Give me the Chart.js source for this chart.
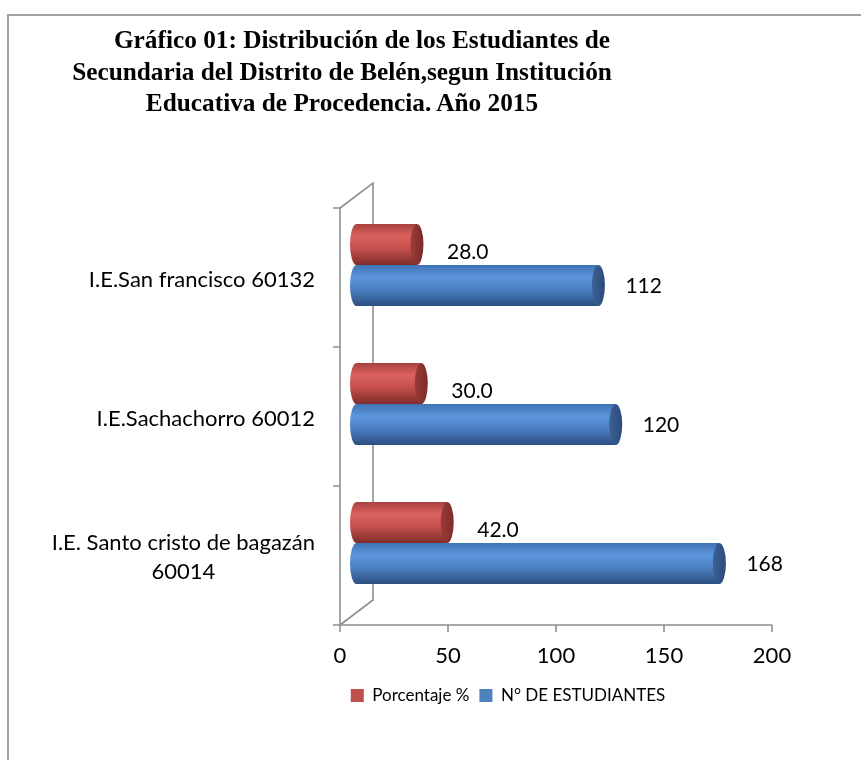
<!DOCTYPE html>
<html>
<head>
<meta charset="utf-8">
<script src="https://cdn.jsdelivr.net/npm/chart.js@4.4.0/dist/chart.umd.min.js"></script>
<style>
html, body { margin: 0; padding: 0; background: #fff; overflow: hidden; }
#marco { position: absolute; left: 7px; top: 14px; width: 1000px; height: 800px;
         border-top: 2px solid #a3a3a3; border-left: 2px solid #a3a3a3; }
#lienzo { position: absolute; left: 0; top: 0; width: 861px; height: 760px; }
#titulo { position: absolute; left: 0; top: 24px; width: 684px; text-align: center;
          font: bold 25.3px "Liberation Serif", serif; line-height: 31.5px; color: #000; }
#titulo .l1 { padding-left: 40px; }
</style>
</head>
<body>
<div id="marco"></div>
<div id="lienzo"><canvas id="grafico"></canvas></div>
<div id="titulo"><div class="l1">Gráfico 01: Distribución de los Estudiantes de</div><div>Secundaria del Distrito de Belén,segun Institución</div><div>Educativa de Procedencia. Año 2015</div></div>
<script>
// datos del gráfico
const instituciones = ['I.E.San francisco 60132', 'I.E.Sachachorro 60012', ['I.E. Santo cristo de bagazán', '60014']];
const porcentaje = [28.0, 30.0, 42.0];
const estudiantes = [112, 120, 168];
const ejeMin = 0, ejeMax = 200, ejePaso = 50;

// profundidad del efecto 3D
const PROF_X = 33, PROF_Y = -25;
const GRIS = '#8f8f8f';

// colores de cilindro: borde sup, brillo, medio, borde inf, tapa clara, tapa oscura
const colRojo = ['#a8423f', '#db625e', '#c54f4c', '#7e2d2b', '#9c3b38', '#7a2c2a'];
const colAzul = ['#4072b4', '#5c96dc', '#4b7fc2', '#2c4f80', '#3d6298', '#2b4b78'];

function cilindro(ctx, x0, x1, yc, h, col) {
    const ry = h / 2, rx = 6.5;
    const top = yc - ry, bot = yc + ry;
    const g = ctx.createLinearGradient(0, top, 0, bot);
    g.addColorStop(0, col[0]);
    g.addColorStop(0.3, col[1]);
    g.addColorStop(0.6, col[2]);
    g.addColorStop(1, col[3]);
    ctx.beginPath();
    ctx.moveTo(x1, top);
    ctx.lineTo(x0, top);
    ctx.ellipse(x0, yc, rx, ry, 0, -Math.PI / 2, Math.PI / 2, true);
    ctx.lineTo(x1, bot);
    ctx.closePath();
    ctx.fillStyle = g;
    ctx.fill();
    // tapa del extremo
    const gt = ctx.createLinearGradient(x1 - rx, 0, x1 + rx, 0);
    gt.addColorStop(0, col[4]);
    gt.addColorStop(1, col[5]);
    ctx.beginPath();
    ctx.ellipse(x1, yc, rx, ry, 0, 0, Math.PI * 2);
    ctx.fillStyle = gt;
    ctx.fill();
}

// paredes y ejes en perspectiva
const paredes = {
    id: 'paredes',
    beforeDatasetsDraw(chart) {
        const {ctx, chartArea: a, scales: {x}} = chart;
        const izq = a.left, inf = a.bottom, sup = a.top;
        ctx.save();
        ctx.strokeStyle = GRIS;
        ctx.lineWidth = 1.6;
        ctx.beginPath();
        // pared lateral
        ctx.moveTo(izq, sup); ctx.lineTo(izq, inf);
        ctx.moveTo(izq, sup); ctx.lineTo(izq + PROF_X, sup + PROF_Y);
        ctx.lineTo(izq + PROF_X, inf + PROF_Y); ctx.lineTo(izq, inf);
        // eje x
        ctx.moveTo(izq, inf); ctx.lineTo(x.getPixelForValue(ejeMax), inf);
        x.ticks.forEach(t => {
            const px = x.getPixelForValue(t.value);
            ctx.moveTo(px, inf); ctx.lineTo(px, inf + 7);
        });
        // marcas de categoría
        const banda = (a.bottom - a.top) / instituciones.length;
        for (let k = 0; k <= instituciones.length; k++) {
            const py = sup + k * banda;
            ctx.moveTo(izq - 7, py); ctx.lineTo(izq, py);
        }
        ctx.stroke();
        ctx.restore();
    }
};

// etiquetas de categoría: una línea a la derecha, varias centradas entre sí
const etiquetasY = {
    id: 'etiquetasY',
    afterDraw(chart) {
        const {ctx, chartArea: a, scales: {y}} = chart;
        ctx.save();
        ctx.font = '22px Lato';
        ctx.fillStyle = '#000';
        ctx.textAlign = 'center';
        ctx.textBaseline = 'middle';
        const der = a.left - 25, lh = 29;
        chart.data.labels.forEach((lab, i) => {
            const lineas = Array.isArray(lab) ? lab : [lab];
            const ancho = Math.max(...lineas.map(t => ctx.measureText(t).width));
            const cx = der - ancho / 2;
            const y0 = y.getPixelForTick(i) + 2 - (lineas.length - 1) * lh / 2;
            lineas.forEach((t, k) => ctx.fillText(t, cx, y0 + k * lh));
        });
        ctx.restore();
    }
};

// barras cilíndricas y etiquetas de valor
const cilindros = {
    id: 'cilindros',
    beforeDatasetDraw() { return false; },
    afterDatasetsDraw(chart) {
        const ctx = chart.ctx;
        ctx.save();
        ctx.translate(PROF_X / 2, PROF_Y / 2);
        const cols = [colRojo, colAzul];
        chart.data.datasets.forEach((ds, i) => {
            chart.getDatasetMeta(i).data.forEach(bar => {
                const {x, y, base, height} = bar.getProps(['x', 'y', 'base', 'height'], true);
                cilindro(ctx, base, x, y, height, cols[i]);
            });
        });
        ctx.font = '21px Lato';
        ctx.fillStyle = '#000';
        ctx.textAlign = 'left';
        ctx.textBaseline = 'middle';
        chart.data.datasets.forEach((ds, i) => {
            chart.getDatasetMeta(i).data.forEach((bar, j) => {
                const v = ds.data[j];
                if (i === 0) {
                    ctx.fillText(v.toFixed(1), bar.x + 30, bar.y + 8);
                } else {
                    ctx.fillText(String(v), bar.x + 27, bar.y + 1);
                }
            });
        });
        ctx.restore();
    }
};

// leyenda desplazada como en el original
const moverLeyenda = {
    id: 'moverLeyenda',
    afterLayout(chart) {
        const lg = chart.legend;
        const d = 508 - (lg.left + lg.right) / 2;
        lg.left += d;
        lg.right += d;
    }
};

new Chart(document.getElementById('grafico'), {
    type: 'bar',
    data: {
        labels: instituciones,
        datasets: [
            {label: 'Porcentaje %', data: porcentaje, backgroundColor: '#c0504d'},
            {label: 'N° DE ESTUDIANTES', data: estudiantes, backgroundColor: '#4f81bd'}
        ]
    },
    options: {
        indexAxis: 'y',
        responsive: true,
        maintainAspectRatio: false,
        animation: false,
        categoryPercentage: 0.59,
        barPercentage: 1,
        layout: {padding: {left: 0, right: 89, top: 208, bottom: 46}},
        scales: {
            x: {
                min: ejeMin, max: ejeMax,
                ticks: {stepSize: ejePaso, font: {family: 'Lato', size: 22}, color: '#000', padding: 18},
                grid: {display: false, drawTicks: false},
                border: {display: false},
                afterFit(s) { s.height = 52; }
            },
            y: {
                ticks: {display: false},
                grid: {display: false, drawTicks: false},
                border: {display: false},
                afterFit(s) { s.width = 340; }
            }
        },
        plugins: {
            legend: {
                position: 'bottom',
                labels: {font: {family: 'Lato', size: 17}, color: '#000', boxWidth: 13, boxHeight: 13, padding: 10}
            },
            tooltip: {enabled: false},
            title: {display: false}
        }
    },
    plugins: [paredes, cilindros, etiquetasY, moverLeyenda]
});
</script>
</body>
</html>
